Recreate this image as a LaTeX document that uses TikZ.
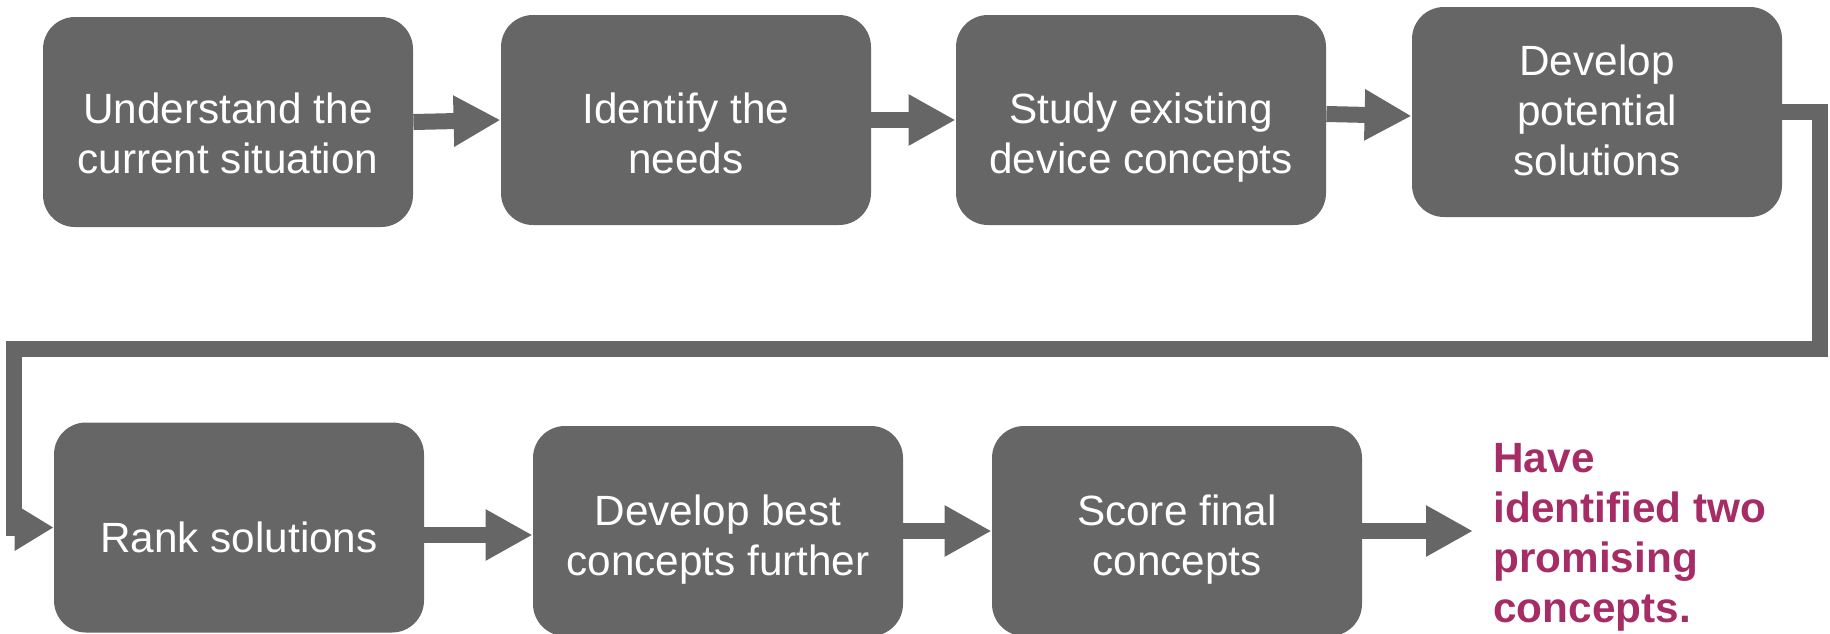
\documentclass[tikz,border=0pt]{standalone}
\usepackage{fontspec}
\setmainfont{Liberation Sans}
\usetikzlibrary{arrows.meta}
\definecolor{boxgray}{RGB}{102,102,102}
\definecolor{accent}{RGB}{166,44,102}
\begin{document}
\begin{tikzpicture}[x=0.5pt,y=-0.5pt,
  box/.style={fill=boxgray, draw=none, rounded corners=16pt, minimum width=185pt, minimum height=105pt, inner sep=0pt},
  txt/.style={text=white, align=center, inner sep=0pt, font=\fontsize{21.15}{25}\selectfont},
  arr/.style={draw=boxgray, line width=8pt, -{Triangle[length=23.5pt,width=24pt]}},
  conn/.style={draw=boxgray, line width=8pt, line join=miter, -{Triangle[length=19.5pt,width=22pt]}},
  goal/.style={text=accent, align=left, anchor=north west, inner sep=0pt, font=\fontsize{21.15}{25}\selectfont\bfseries}]
\useasboundingbox (0,0) rectangle (1830,633);
% boxes
\node[box] (b1) at (228,122) {};
\node[box] (b2) at (686,120) {};
\node[box] (b3) at (1141,120) {};
\node[box] (b4) at (1597,112) {};
\node[box] (b5) at (239,527.5) {};
\node[box] (b6) at (718,531) {};
\node[box] (b7) at (1177,531) {};
% texts
\node[txt] (t1) at (228,138) {\strut Understand the\\current situation\strut};
\node[txt] (t2) at (686,138) {\strut Identify the\\needs\strut};
\node[txt] (t3) at (1141,138) {\strut Study existing\\device concepts\strut};
\node[txt] (t4) at (1597,115) {\strut Develop\\potential\\solutions\strut};
\node[txt] (t5) at (239,542) {\strut Rank solutions\strut};
\node[txt] (t6) at (718,540) {\strut Develop best\\concepts further\strut};
\node[txt] (t7) at (1177,540) {\strut Score final\\concepts\strut};
\node[goal] (goal) at (1493,437) {\strut Have\\identified two\\promising\\concepts.\strut};
% connectors
\coordinate (c1) at (1820,349);
\coordinate (c2) at (14,349);
\coordinate (e) at (1473,531);
\draw[arr] (b1.east) -- (b2.west);
\draw[arr] (b2.east) -- (b3.west);
\draw[arr] ([yshift=3pt]b3.east) -- ([yshift=-2pt]b4.west);
\draw[conn] (b4.east) -| (c1) -- (c2) |- (b5.west);
\draw[arr] ([yshift=-3.75pt]b5.east) -- ([yshift=-2pt]b6.west);
\draw[arr] (b6.east) -- (b7.west);
\draw[arr] (b7.east) -- (e);
\end{tikzpicture}
\end{document}
